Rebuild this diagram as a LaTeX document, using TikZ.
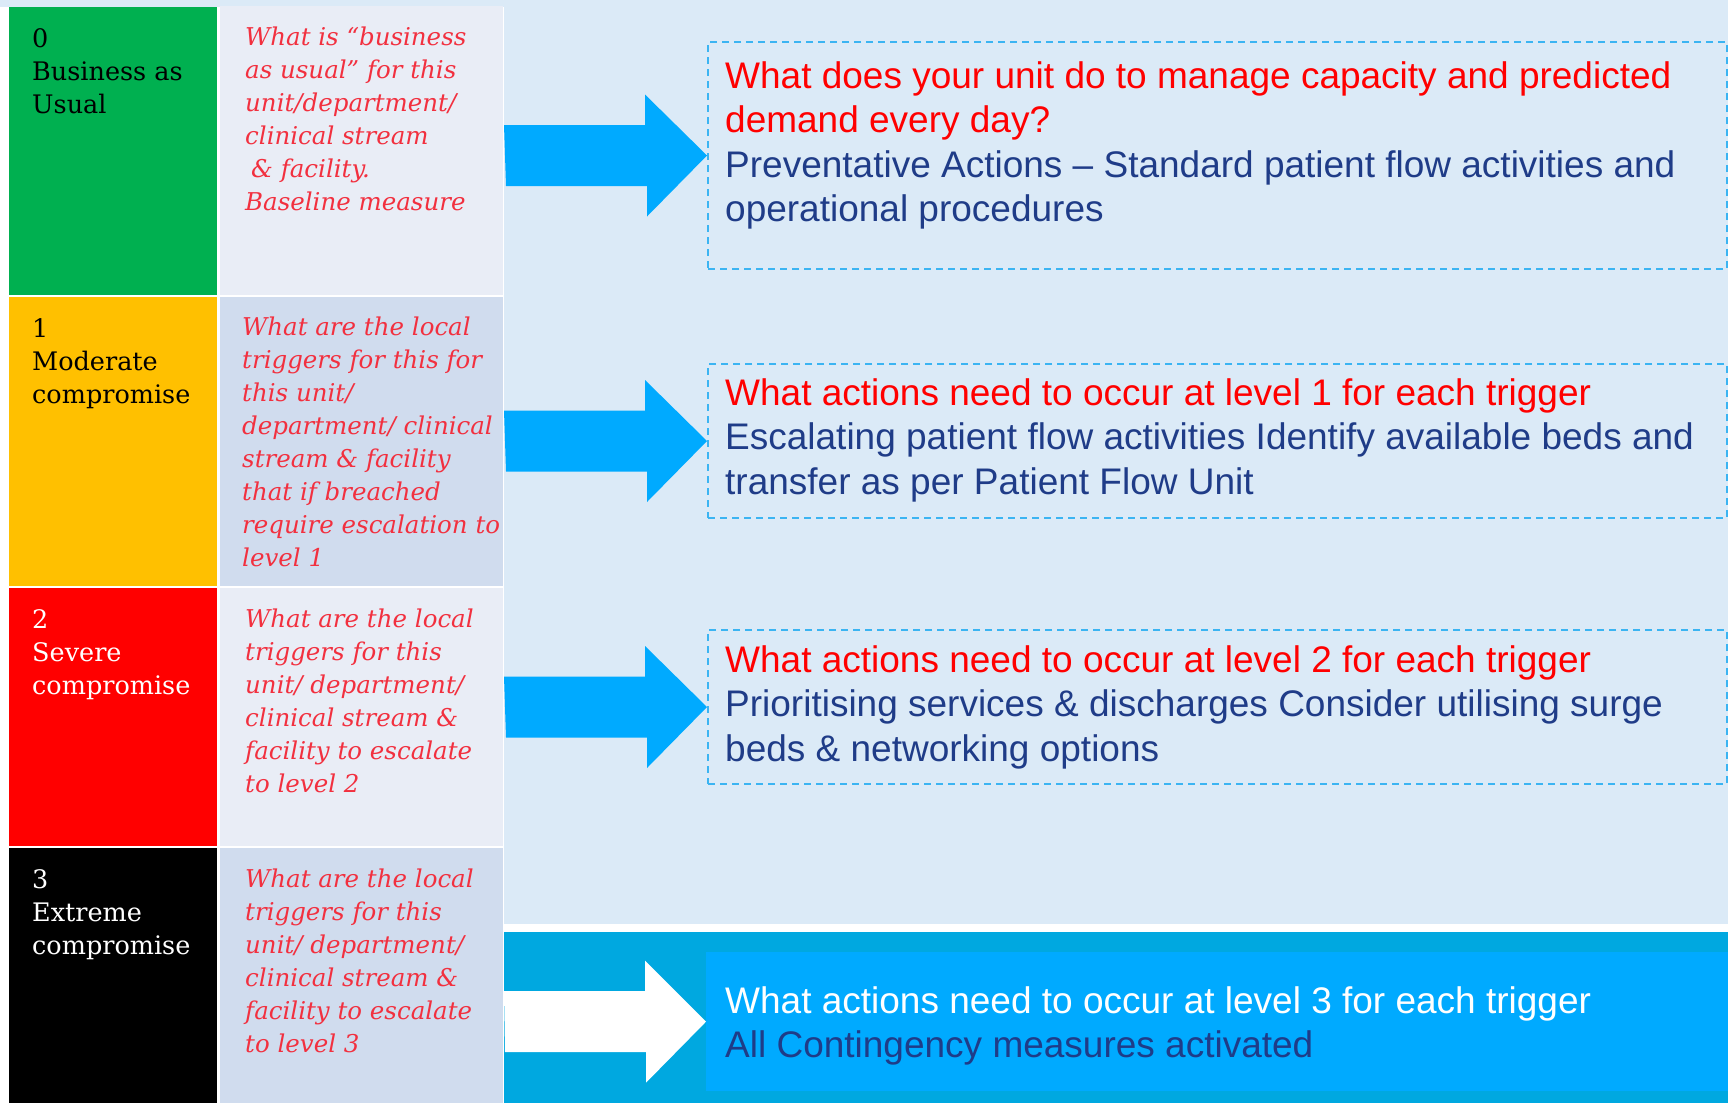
\documentclass[tikz,border=0pt]{standalone}
\usepackage{fontspec}
\setmainfont{Liberation Sans}
\newfontfamily\slabfont{DejaVu Serif}
\usetikzlibrary{positioning,calc}

\definecolor{pagebg}{HTML}{DBEAF7}
\definecolor{lvlgreen}{HTML}{00B050}
\definecolor{lvlamber}{HTML}{FFC000}
\definecolor{lvlred}{HTML}{FF0000}
\definecolor{cellpale}{HTML}{E9EDF6}
\definecolor{celldark}{HTML}{D0DCEE}
\definecolor{trigred}{HTML}{F2303F}
\definecolor{qred}{HTML}{FF0000}
\definecolor{navy}{HTML}{1F3C88}
\definecolor{arrowblue}{HTML}{00AAFF}
\definecolor{bandblue}{HTML}{00A8E0}
\definecolor{actblue}{HTML}{00AAFF}
\definecolor{dashblue}{HTML}{3BB4F2}

\newcommand{\flowarrow}[3]{%
  \fill[#3] ($(#1.east |- #2.west)+(1,-30.5)$) -- ++(141,0) -- ++(0,-30.5) -- (#2.west)
    -- ++(-60,61) -- ++(0,-30.5) -- ++(-141,0) -- cycle;}

\begin{document}
\begin{tikzpicture}[x=1pt, y=-1pt,
    level/.style={anchor=north west, inner sep=0pt, outer sep=0pt, minimum width=208pt},
    trigger/.style={anchor=north west, inner sep=0pt, outer sep=0pt, minimum width=283pt},
    action/.style={anchor=north west, inner sep=0pt, draw=dashblue, line width=2pt, dash pattern=on 7pt off 5pt, minimum width=1019pt},
    lvltext/.style={anchor=base west, inner sep=0pt, align=left, font=\slabfont\fontsize{25.5}{33}\selectfont},
    trigtext/.style={anchor=base west, inner sep=0pt, align=left, text=trigred, font=\slabfont\itshape\fontsize{24.5}{33}\selectfont},
    acttext/.style={anchor=base west, inner sep=0pt, align=left, text=navy, font=\fontsize{37}{44.5}\selectfont},
]
\useasboundingbox (0,0) rectangle (1728,1103);
\fill[pagebg] (0,0) rectangle (1728,1103);
\fill[white] (0,7) rectangle (504,1103);

\node[level, fill=lvlgreen, minimum height=288pt] (lvl0) at (9,7) {};
\node[level, fill=lvlamber, minimum height=289pt] (lvl1) at (9,297) {};
\node[level, fill=lvlred, minimum height=258pt] (lvl2) at (9,588) {};
\node[level, fill=black, minimum height=255pt] (lvl3) at (9,848) {};

\node[trigger, fill=cellpale, minimum height=289pt] (trig0) at (220,6) {};
\node[trigger, fill=celldark, minimum height=289pt] (trig1) at (220,297) {};
\node[trigger, fill=cellpale, minimum height=258pt] (trig2) at (220,588) {};
\node[trigger, fill=celldark, minimum height=255pt] (trig3) at (220,848) {};

% base anchor sits on the last line
\node[lvltext] (lvl0txt) at ($(lvl0.north west)+(23,106)$) {0\\Business as\\Usual};
\node[lvltext] (lvl1txt) at ($(lvl1.north west)+(23,106)$) {1\\Moderate\\compromise};
\node[lvltext, text=white] (lvl2txt) at ($(lvl2.north west)+(23,106)$) {2\\Severe\\compromise};
\node[lvltext, text=white] (lvl3txt) at ($(lvl3.north west)+(23,106)$) {3\\Extreme\\compromise};

\node[trigtext] (trig0txt) at ($(trig0.north west)+(25,204)$) {What is “business\\as usual” for this\\unit/department/\\clinical stream\\\hspace{6pt}\& facility.\\Baseline measure};
\node[trigtext] (trig1txt) at ($(trig1.north west)+(22,269)$) {What are the local\\triggers for this for\\this unit/\\department/ clinical\\stream \& facility\\that if breached\\require escalation to\\level 1};
\node[trigtext] (trig2txt) at ($(trig2.north west)+(25,204)$) {What are the local\\triggers for this\\unit/ department/\\clinical stream \&\\facility to escalate\\to level 2};
\node[trigtext] (trig3txt) at ($(trig3.north west)+(25,204)$) {What are the local\\triggers for this\\unit/ department/\\clinical stream \&\\facility to escalate\\to level 3};

\fill[white] (504,924) rectangle (1728,932);
\fill[bandblue] (504,932) rectangle (1728,1103);

\node[action, minimum height=227pt] (act0) at (707,41) {};
\node[action, minimum height=154pt] (act1) at (707,363) {};
\node[action, minimum height=154pt] (act2) at (707,629) {};
\node[anchor=north west, inner sep=0pt, fill=actblue, minimum width=1022pt, minimum height=139pt] (act3) at (706,952) {};

\node[acttext] (act0txt) at ($(act0.north west)+(18,180.5)$) {\textcolor{qred}{What does your unit do to manage capacity and predicted}\\\textcolor{qred}{demand every day?}\\Preventative Actions – Standard patient flow activities and\\operational procedures};
\node[acttext] (act1txt) at ($(act1.north west)+(18,131)$) {\textcolor{qred}{What actions need to occur at level 1 for each trigger}\\Escalating patient flow activities Identify available beds and\\transfer as per Patient Flow Unit};
\node[acttext] (act2txt) at ($(act2.north west)+(18,132)$) {\textcolor{qred}{What actions need to occur at level 2 for each trigger}\\Prioritising services \& discharges Consider utilising surge\\beds \& networking options};
\node[acttext] (act3txt) at ($(act3.north west)+(19,105.5)$) {\textcolor{white}{What actions need to occur at level 3 for each trigger}\\All Contingency measures activated};

\flowarrow{trig0}{act0}{arrowblue}
\flowarrow{trig1}{act1}{arrowblue}
\flowarrow{trig2}{act2}{arrowblue}
\flowarrow{trig3}{act3}{white}
\end{tikzpicture}
\end{document}
